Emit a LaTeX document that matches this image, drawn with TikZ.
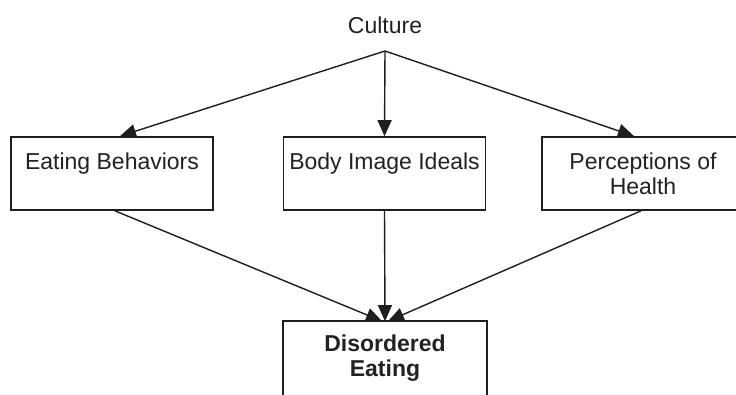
\documentclass[tikz,border=0pt]{standalone}
\usepackage{fontspec}
\setmainfont{Liberation Sans}
\usetikzlibrary{arrows.meta}
\definecolor{ink}{HTML}{1E1E1E}
\definecolor{txt}{HTML}{222222}
\tikzset{
  frame/.style={draw=ink, line width=1.7pt},
  box/.style={frame, minimum width=202pt, minimum height=73pt,
    inner sep=0pt, align=center, text=txt, font=\fontsize{23}{25}\selectfont},
  label/.style={text=txt, inner sep=0pt, font=\fontsize{23}{25}\selectfont},
  arr/.style={draw=ink, line width=1.4pt, -{Triangle[length=16pt, width=14pt]}}
}
\begin{document}
\begin{tikzpicture}[x=1pt, y=-1pt]
  \useasboundingbox (0,0) rectangle (736,394);
  \clip (0,0) rectangle (736,394);
  \fill[white] (0,0) rectangle (736,394);

  % source
  \node[label] (cult) at (385,25) {Culture};
  \coordinate (apex) at (385,51);

  % mediating factors
  \node[box] (eb) at (112,173.5) {Eating Behaviors\\\mbox{}};
  \node[box] (bi) at (384.5,173.5) {Body Image Ideals\\\mbox{}};
  \node[box] (ph) at (643,173.5) {Perceptions of\\Health};

  % outcome: the frame runs on past the lower edge of the page
  \node[box, draw=none, font=\fontsize{23}{25}\selectfont\bfseries] (de) at (385,358.5) {Disordered\\Eating};
  \draw[frame] ([yshift=-20pt]de.south west) -- (de.north west)
    -- (de.north east) -- ([yshift=-20pt]de.south east);

  % culture to factors
  \draw[arr] (apex) -- ([xshift=8pt]eb.north);
  \draw[arr] (apex) -- (bi.north);
  \draw[arr] (apex) -- ([xshift=-9pt]ph.north);

  % factors to outcome
  \draw[arr] ([xshift=3pt]eb.south) -- ([xshift=-3pt]de.north);
  \draw[arr] (bi.south) -- (de.north);
  \draw[arr] ([xshift=-2pt]ph.south) -- ([xshift=3pt]de.north);
\end{tikzpicture}
\end{document}
